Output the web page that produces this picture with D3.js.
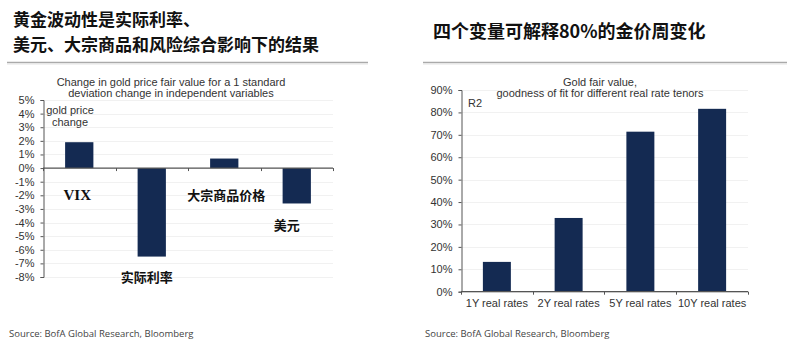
<!DOCTYPE html>
<html>
<head>
<meta charset="utf-8">
<script src="https://cdn.jsdelivr.net/npm/d3@7"></script>
<style>
  html, body { margin: 0; padding: 0; background: #fff; }
  svg { display: block; }
</style>
</head>
<body>
<script>
// Left panel: change in gold fair value for a 1 s.d. move in each driver (%)
const driverCategories = ["VIX", "实际利率", "大宗商品价格", "美元"];
const driverValues = [1.9, -6.5, 0.7, -2.6];
const driverTicks = [5, 4, 3, 2, 1, 0, -1, -2, -3, -4, -5, -6, -7, -8];

// Right panel: R² of gold fair value by real-rate tenor (%)
const tenorCategories = ["1Y real rates", "2Y real rates", "5Y real rates", "10Y real rates"];
const tenorValues = [13.3, 32.9, 71.4, 81.6];
const tenorTicks = [0, 10, 20, 30, 40, 50, 60, 70, 80, 90];

const W = 800, H = 345;
const barColor = "#142a52";
const textColor = "#333";
const sans = "'Liberation Sans', Arial, sans-serif";
const cjk = "'Noto Sans CJK SC', sans-serif";

const svg = d3.select("body").append("svg").attr("width", W).attr("height", H);

// ---------- headings ----------
const headings = svg.append("g").attr("font-family", cjk).attr("font-weight", 700)
  .attr("fill", "#111");
headings.append("text").attr("x", 13).attr("y", 26).attr("font-size", 17)
  .text("黄金波动性是实际利率、");
headings.append("text").attr("x", 13).attr("y", 51).attr("font-size", 17)
  .text("美元、大宗商品和风险综合影响下的结果");
headings.append("text").attr("x", 433).attr("y", 38).attr("font-size", 18)
  .text("四个变量可解释80%的金价周变化");

// separator rules under the headings
[[7, 368], [423, 787]].forEach(([x1, x2]) => {
  svg.append("line").attr("x1", x1).attr("x2", x2).attr("y1", 62.5).attr("y2", 62.5)
    .attr("stroke", "#aaa").attr("stroke-width", 1.6);
  svg.append("line").attr("x1", x1).attr("x2", x2).attr("y1", 64).attr("y2", 64)
    .attr("stroke", "#e4e4e4").attr("stroke-width", 1);
});

// ---------- shared helpers ----------
function drawYAxis(g, y, ticks, x0, x1, fmt) {
  // faint gridlines
  g.append("g").selectAll("line").data(ticks).join("line")
    .attr("x1", x0 + 1).attr("x2", x1)
    .attr("y1", d => Math.round(y(d)) + 0.5).attr("y2", d => Math.round(y(d)) + 0.5)
    .attr("stroke", "#f1f1f1").attr("stroke-width", 1);
  const axis = d3.axisLeft(y).tickValues(ticks).tickSize(3).tickPadding(6).tickFormat(fmt);
  const ag = g.append("g").attr("transform", `translate(${x0 + 0.5},0)`).call(axis);
  ag.select(".domain").attr("stroke", "#555");
  ag.selectAll(".tick line").attr("stroke", "#555");
  ag.selectAll(".tick text").attr("font-family", sans).attr("font-size", 11).attr("fill", textColor);
}

function drawXAxis(g, x, yPos, cats) {
  const step = x.step();
  const half = step * x.paddingInner() / 2;
  const [r0, r1] = x.range();
  g.append("line").attr("x1", r0).attr("x2", r1).attr("y1", yPos).attr("y2", yPos)
    .attr("stroke", "#555").attr("stroke-width", 1.2);
  const bounds = [r0].concat(cats.map(c => x(c) + x.bandwidth() + half));
  g.append("g").selectAll("line").data(bounds).join("line")
    .attr("x1", d => Math.round(d) + 0.5).attr("x2", d => Math.round(d) + 0.5)
    .attr("y1", yPos).attr("y2", yPos + 3)
    .attr("stroke", "#555");
}

// ---------- left chart ----------
const L = svg.append("g");
const yL = d3.scaleLinear().domain([-8, 5]).range([277, 100]);
const xL = d3.scaleBand().domain(driverCategories).range([43, 333])
  .paddingInner(0.61).paddingOuter(0.305);

drawYAxis(L, yL, driverTicks, 43, 333, d => d + "%");

L.append("g").selectAll("rect").data(driverCategories).join("rect")
  .attr("x", d => xL(d))
  .attr("width", xL.bandwidth())
  .attr("y", (d, i) => yL(Math.max(0, driverValues[i])))
  .attr("height", (d, i) => Math.abs(yL(driverValues[i]) - yL(0)))
  .attr("fill", barColor);

drawXAxis(L, xL, yL(0), driverCategories);

const titleL = L.append("g").attr("font-family", sans).attr("font-size", 11)
  .attr("fill", textColor).attr("text-anchor", "middle");
titleL.append("text").attr("x", 171).attr("y", 85.5)
  .text("Change in gold price fair value for a 1 standard");
titleL.append("text").attr("x", 171).attr("y", 97)
  .text("deviation change in independent variables");

const unitL = L.append("g").attr("font-family", sans).attr("font-size", 11)
  .attr("fill", textColor).attr("text-anchor", "middle");
unitL.append("text").attr("x", 70).attr("y", 114).text("gold price");
unitL.append("text").attr("x", 70).attr("y", 125.5).text("change");

// category names placed in the plot next to each bar
const catLabelY = [-2, -8, -2, -4.15];
L.append("g").selectAll("text").data(driverCategories).join("text")
  .attr("x", (d, i) => xL(d) + xL.bandwidth() / 2 + [-2, -5, 2, -10][i])
  .attr("y", (d, i) => yL(catLabelY[i]) + 5)
  .attr("text-anchor", "middle")
  .attr("font-family", (d, i) => i === 0 ? "'Liberation Serif', serif" : cjk)
  .attr("font-weight", 700)
  .attr("font-size", (d, i) => i === 0 ? 15 : 13)
  .attr("fill", "#111")
  .text(d => d);

// ---------- right chart ----------
const R = svg.append("g");
const yR = d3.scaleLinear().domain([0, 90]).range([291.7, 90]);
const xR = d3.scaleBand().domain(tenorCategories).range([461, 748])
  .paddingInner(0.61).paddingOuter(0.305);

drawYAxis(R, yR, tenorTicks, 461, 748, d => d + "%");

R.append("g").selectAll("rect").data(tenorCategories).join("rect")
  .attr("x", d => xR(d))
  .attr("width", xR.bandwidth())
  .attr("y", (d, i) => yR(tenorValues[i]))
  .attr("height", (d, i) => yR(0) - yR(tenorValues[i]))
  .attr("fill", barColor);

drawXAxis(R, xR, yR(0), tenorCategories);

R.append("g").selectAll("text").data(tenorCategories).join("text")
  .attr("x", d => xR(d) + xR.bandwidth() / 2)
  .attr("y", yR(0) + 15.5)
  .attr("text-anchor", "middle")
  .attr("font-family", sans).attr("font-size", 11).attr("fill", textColor)
  .text(d => d);

const titleR = R.append("g").attr("font-family", sans).attr("font-size", 11)
  .attr("fill", textColor).attr("text-anchor", "middle");
titleR.append("text").attr("x", 600).attr("y", 85.5).text("Gold fair value,");
titleR.append("text").attr("x", 600).attr("y", 97)
  .text("goodness of fit for different real rate tenors");
R.append("text").attr("x", 475).attr("y", 107).attr("text-anchor", "middle")
  .attr("font-family", sans).attr("font-size", 11).attr("fill", textColor).text("R2");

// ---------- sources ----------
[[9, "Source: BofA Global Research, Bloomberg"], [425, "Source: BofA Global Research, Bloomberg"]]
  .forEach(([x, t]) => {
    svg.append("text").attr("x", x).attr("y", 336.5)
      .attr("font-family", "'Open Sans', sans-serif").attr("font-size", 9.5)
      .attr("fill", "#444").text(t);
  });
</script>
</body>
</html>
